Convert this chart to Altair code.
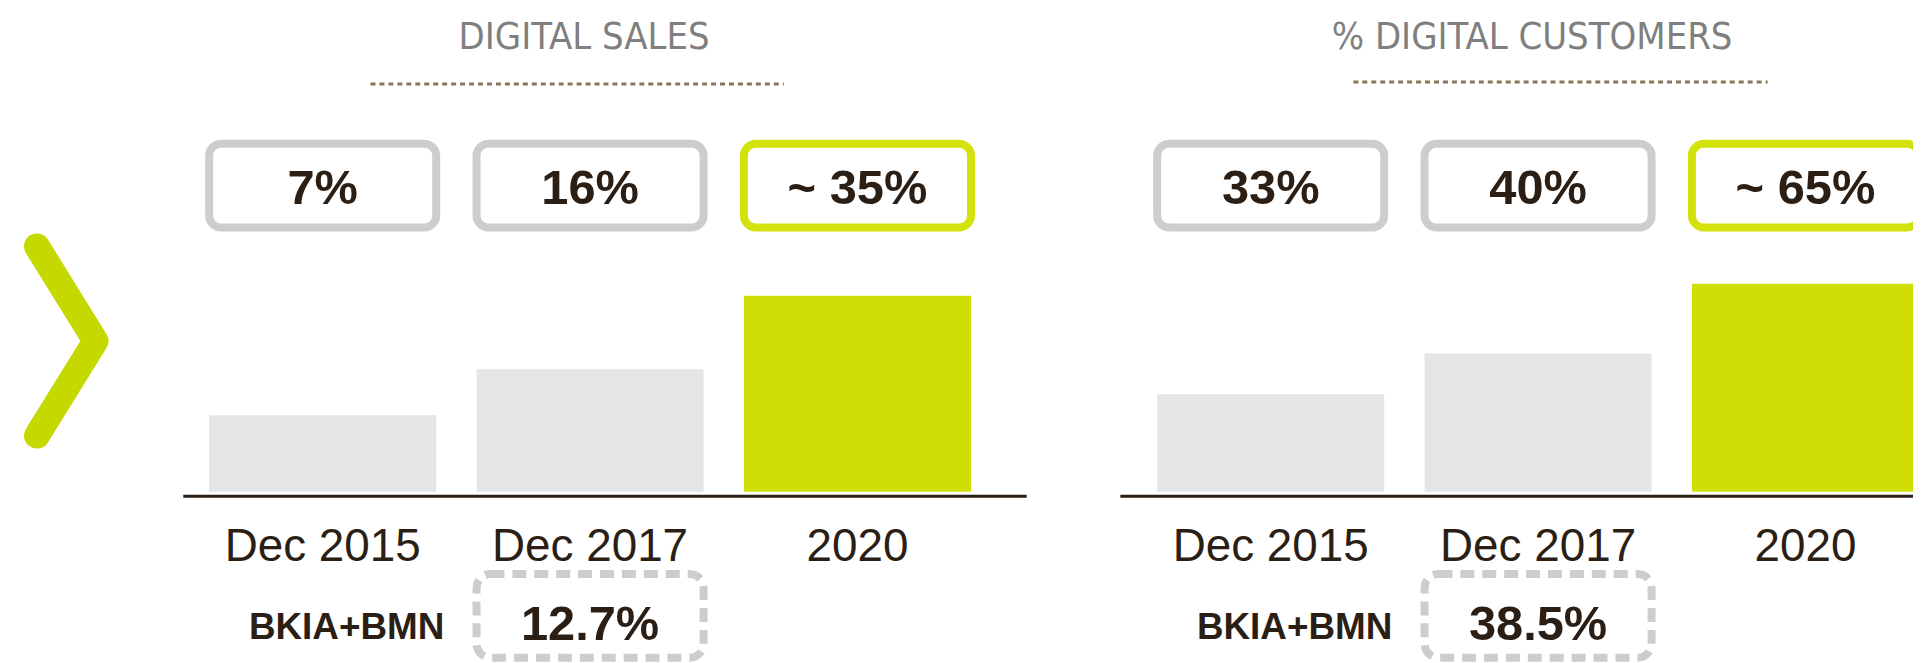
import altair as alt
import pandas as pd

# ---------------- data ----------------
panels = ["DIGITAL SALES", "% DIGITAL CUSTOMERS"]
periods = ["Dec 2015", "Dec 2017", "2020"]
kinds = ["actual", "actual", "target"]
sales_labels = ["7%", "16%", "~ 35%"]
customer_labels = ["33%", "40%", "~ 65%"]
# bar heights as drawn (arbitrary units)
sales_bar_level = [77, 123, 197]
customer_bar_level = [98, 139, 209]
proforma_name = "BKIA+BMN"
proforma_period = "Dec 2017"
proforma_values = ["12.7%", "38.5%"]

rows = []
for panel, labels, levels in zip(panels, [sales_labels, customer_labels],
                                 [sales_bar_level, customer_bar_level]):
    for period, kind, label, level in zip(periods, kinds, labels, levels):
        rows.append(dict(panel=panel, period=period, kind=kind, label=label, level=level))
df = pd.DataFrame(rows)
pf = pd.DataFrame({"panel": panels, "period": [proforma_period] * 2,
                   "value": proforma_values})
pf_names = pd.DataFrame({"panel": panels, "period": [periods[0]] * 2,
                         "name": [proforma_name] * 2})
titles = pd.DataFrame({"panel": panels})

# ---------------- styles ----------------
DARK = "#2B1E14"
GREY_BAR = "#E5E5E5"
GREEN = "#CFDF05"
BOX_GREY = "#CDCDCD"
BOX_GREEN = "#D3E20B"
TITLE_GREY = "#7F7F7F"
DOT = "#8A7657"
CHEV = "#C5D800"
FONT = "Liberation Sans"
NARROW = "Liberation Sans Narrow, DejaVu Sans Condensed, Liberation Sans"

W, H = 1913, 655

X = alt.X("panel:N", sort=panels, axis=None,
          scale=alt.Scale(domain=panels, range=[202, 1919], paddingInner=0.1964, paddingOuter=0))
XO = alt.XOffset("period:N", sort=periods,
                 scale=alt.Scale(domain=periods, paddingInner=0.1508, paddingOuter=0))

base = alt.Chart(df)

bars = base.mark_bar().encode(
    x=X, xOffset=XO,
    y=alt.Y("level:Q", axis=None, scale=alt.Scale(domain=[0, 250], range=[484.5, 234.5])),
    color=alt.Color("kind:N", legend=None,
                    scale=alt.Scale(domain=["actual", "target"], range=[GREY_BAR, GREEN])),
)

boxes = base.mark_bar(fill="white", strokeWidth=8, cornerRadius=12).encode(
    x=X, xOffset=XO,
    y=alt.value(135), y2=alt.value(219),
    stroke=alt.Stroke("kind:N", legend=None,
                      scale=alt.Scale(domain=["actual", "target"], range=[BOX_GREY, BOX_GREEN])),
)

box_text = base.mark_text(font=FONT, fontWeight="bold", fontSize=49, color=DARK,
                          baseline="alphabetic").encode(
    x=X, xOffset=XO, y=alt.value(195), text="label:N")

period_text = base.mark_text(font=FONT, fontSize=46, color=DARK,
                             baseline="alphabetic").encode(
    x=X, xOffset=XO, y=alt.value(554), text="period:N")

title_text = alt.Chart(titles).mark_text(font=NARROW, fontSize=38, color=TITLE_GREY,
                                         baseline="alphabetic", dx=-6).encode(
    x=X, y=alt.value(40), text="panel:N")

pf_base = alt.Chart(pf)
pf_box = pf_base.mark_bar(fill="white", stroke=BOX_GREY, strokeWidth=8,
                          strokeDash=[14, 8], cornerRadius=14).encode(
    x=X, xOffset=XO, y=alt.value(567), y2=alt.value(651))
pf_value = pf_base.mark_text(font=FONT, fontWeight="bold", fontSize=49, color=DARK,
                             baseline="alphabetic").encode(
    x=X, xOffset=XO, y=alt.value(633), text="value:N")
pf_name = alt.Chart(pf_names).mark_text(font=FONT, fontWeight="bold", fontSize=37, color=DARK,
                                        baseline="alphabetic", dx=24).encode(
    x=X, xOffset=XO, y=alt.value(632), text="name:N")

one = alt.Data(values=[{"k": 1}])
dots_l = alt.Chart(one).mark_rule(color=DOT, strokeWidth=3, strokeDash=[5, 4]).encode(
    x=alt.value(364), x2=alt.value(779), y=alt.value(75))
dots_r = alt.Chart(one).mark_rule(color=DOT, strokeWidth=3, strokeDash=[5, 4]).encode(
    x=alt.value(1351), x2=alt.value(1767), y=alt.value(73))
axis_l = alt.Chart(one).mark_rule(color=DARK, strokeWidth=3).encode(
    x=alt.value(176), x2=alt.value(1023), y=alt.value(489))
axis_r = alt.Chart(one).mark_rule(color=DARK, strokeWidth=3).encode(
    x=alt.value(1117), x2=alt.value(1913), y=alt.value(489))
chevron = alt.Chart(one).mark_point(
    shape="M-0.31,-1L0.31,0L-0.31,1", size=36100, filled=False, strokeWidth=26,
    strokeCap="round", strokeJoin="round", color=CHEV, opacity=1).encode(
    x=alt.value(58.5), y=alt.value(333))

chart = alt.layer(
    dots_l, dots_r, axis_l, axis_r, chevron,
    bars, boxes, box_text, period_text, title_text, pf_box, pf_value, pf_name,
).properties(
    width=W, height=H, padding=0, autosize=alt.AutoSizeParams(type="none"),
    background="white",
).configure_view(strokeWidth=0)

chart.save("out.html", embed_options={"renderer": "svg", "actions": False})
